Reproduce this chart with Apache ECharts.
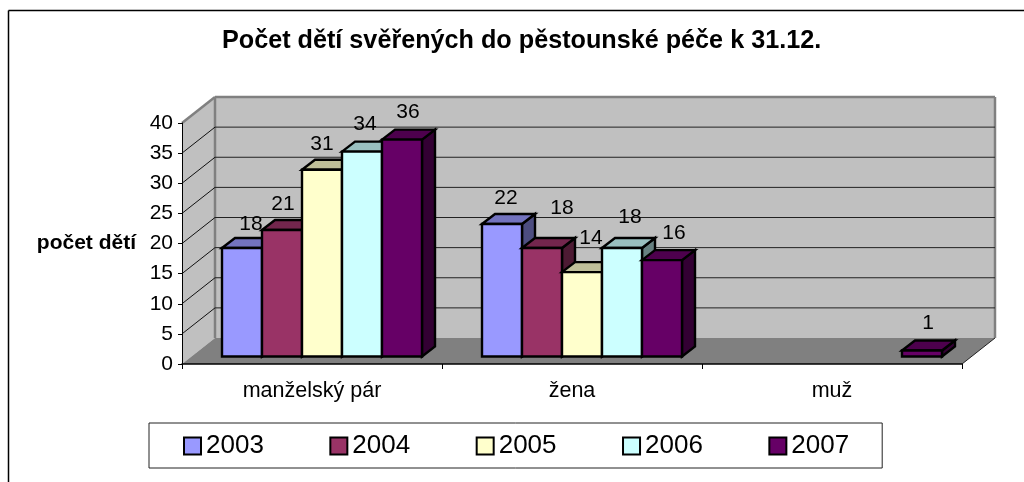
<!DOCTYPE html>
<html><head><meta charset="utf-8">
<style>html,body{margin:0;padding:0;background:#fff}#c{width:1024px;height:482px}</style>
<script src="https://cdn.jsdelivr.net/npm/echarts@6/dist/echarts.min.js"></script>
</head><body><div id="c"></div>
<script>
const categories = ['manželský pár', 'žena', 'muž'];
const years = ['2003', '2004', '2005', '2006', '2007'];
const values2003 = [18, 22, null];
const values2004 = [21, 18, null];
const values2005 = [31, 14, null];
const values2006 = [34, 18, null];
const values2007 = [36, 16, 1];
const yTicks = [5, 10, 15, 20, 25, 30, 35];
const colors = ['#9999FF', '#993366', '#FFFFCC', '#CCFFFF', '#660066'];

// label placement relative to each bar's top centre (style, not data)
const labelNudge = [
  [[9, -24], [4, -26], null],
  [[1, -26], [20, -40], null],
  [[0, -26], [9, -34], null],
  [[3, -27], [8, -31], null],
  [[6, -27], [12, -27], [6, -27]]
];
const WALL_DX = 33, WALL_DY = -26;   // depth of the room
const BAR_DX = 13, BAR_DY = -10;     // depth of one bar
const FRONT_DX = 10, FRONT_DY = -7.5; // bars' front plane behind the axis plane

function shade(hex, k) {
  const n = parseInt(hex.slice(1), 16);
  const c = [n >> 16, (n >> 8) & 255, n & 255].map(v => Math.round(v * k));
  return 'rgb(' + c.join(',') + ')';
}
function poly(points, fill, stroke, lw) {
  return { type: 'polygon', shape: { points }, style: { fill, stroke, lineWidth: lw || 0, lineJoin: 'miter' } };
}
function line(x1, y1, x2, y2, stroke, lw) {
  return { type: 'line', shape: { x1, y1, x2, y2 }, style: { stroke, lineWidth: lw } };
}

function renderRoom(params, api) {
  const cs = params.coordSys;
  const l = cs.x, r = cs.x + cs.width, t = cs.y, b = cs.y + cs.height;
  const dx = WALL_DX, dy = WALL_DY;
  return { type: 'group', children: [
    poly([[l + dx, t + dy], [r + dx, t + dy], [r + dx, b + dy], [l + dx, b + dy]], '#C0C0C0'),
    poly([[l, t], [l + dx, t + dy], [l + dx, b + dy], [l, b]], '#C0C0C0'),
    poly([[l, b], [r, b], [r + dx, b + dy], [l + dx, b + dy]], '#808080'),
    line(l, t, l + dx, t + dy, '#808080', 2.5),
    line(l + dx, t + dy, r + dx, t + dy, '#808080', 2.5),
    line(l + dx, t + dy, l + dx, b + dy, '#808080', 2.5),
    line(r + dx, t + dy, r + dx, b + dy, '#808080', 2.5),
    line(r, b, r + dx, b + dy, '#222', 1)
  ] };
}
function renderGrid(params, api) {
  const cs = params.coordSys;
  const y = api.coord([0, api.value(1)])[1];
  const l = cs.x, r = cs.x + cs.width;
  return { type: 'group', children: [
    line(l, y, l + WALL_DX, y + WALL_DY, '#111', 1),
    line(l + WALL_DX, y + WALL_DY, r + WALL_DX, y + WALL_DY, '#222', 1)
  ] };
}
function barRenderer(s) {
  return function (params, api) {
    const v = api.value(1);
    if (v === null || v === undefined || isNaN(v)) return;
    const cat = api.value(0);
    const band = api.size([1, 0])[0];
    const w = band / 6.5;
    const cx = api.coord([cat, 0])[0];
    const x0 = cx - 2.5 * w + s * w + FRONT_DX, x1 = x0 + w;
    const yb = api.coord([cat, 0])[1] + FRONT_DY;
    const yt = api.coord([cat, v])[1] + FRONT_DY;
    const c = colors[s], sw = 2.4;
    const nudge = labelNudge[s][cat] || [0, -27];
    return { type: 'group', children: [
      poly([[x1, yt], [x1 + BAR_DX, yt + BAR_DY], [x1 + BAR_DX, yb + BAR_DY], [x1, yb]], shade(c, 0.5), '#000', sw),
      poly([[x0, yt], [x0 + BAR_DX, yt + BAR_DY], [x1 + BAR_DX, yt + BAR_DY], [x1, yt]], shade(c, 0.75), '#000', sw),
      poly([[x0, yt], [x1, yt], [x1, yb], [x0, yb]], c, '#000', sw),
      { type: 'text', z2: 50, style: { text: String(v), x: (x0 + x1) / 2 + nudge[0], y: yt + nudge[1],
        align: 'center', verticalAlign: 'middle', fontSize: 21, fontFamily: 'Liberation Sans', fill: '#000' } }
    ] };
  };
}

const valuesByYear = [values2003, values2004, values2005, values2006, values2007];
const series = [
  { type: 'custom', name: 'room', renderItem: renderRoom, data: [[0, 0]], z: 1, silent: true, encode: { x: 0, y: 1 } },
  { type: 'custom', name: 'grid', renderItem: renderGrid, data: yTicks.map(t => [0, t]), z: 1, silent: true, encode: { x: 0, y: 1 } }
].concat(years.map((y, s) => ({
  type: 'custom', name: y, z: 4 + s, silent: true,
  itemStyle: { color: colors[s] },
  encode: { x: 0, y: 1 },
  renderItem: barRenderer(s),
  data: valuesByYear[s].map((v, i) => [i, v])
})));

const chart = echarts.init(document.getElementById('c'), null, { renderer: 'canvas' });
chart.setOption({
  animation: false,
  backgroundColor: '#fff',
  textStyle: { fontFamily: 'Liberation Sans' },
  title: { text: 'Počet dětí svěřených do pěstounské péče k 31.12.', left: 222, top: 29,
    padding: 0, textStyle: { fontSize: 25.2, fontWeight: 'bold', color: '#000', fontFamily: 'Liberation Sans' } },
  grid: { left: 182, right: 62, top: 123, height: 241, containLabel: false },
  xAxis: { type: 'category', data: categories, z: 3,
    axisLine: { show: true, lineStyle: { color: '#000', width: 1.5 } },
    axisTick: { show: true, length: 5, lineStyle: { color: '#000' } },
    axisLabel: { fontSize: 21.5, color: '#000', margin: 16, fontFamily: 'Liberation Sans' } },
  yAxis: { type: 'value', min: 0, max: 40, interval: 5, z: 3,
    name: 'počet dětí', nameLocation: 'middle', nameRotate: 0, nameGap: 46,
    nameTextStyle: { fontSize: 21, fontWeight: 'bold', color: '#000', padding: [17, 0, 0, 0], fontFamily: 'Liberation Sans' },
    splitLine: { show: false },
    axisLine: { show: true, lineStyle: { color: '#000', width: 1 } },
    axisTick: { show: true, length: 4, lineStyle: { color: '#000' } },
    axisLabel: { fontSize: 21, color: '#000', margin: 9, fontFamily: 'Liberation Sans' } },
  legend: { data: years, left: 149, top: 423, orient: 'horizontal', icon: 'rect',
    itemWidth: 17, itemHeight: 17, itemGap: 65.5,
    padding: [10, 33, 9, 34], borderColor: '#222', borderWidth: 1, backgroundColor: '#fff',
    selectedMode: false, itemStyle: { borderColor: '#000', borderWidth: 2 },
    textStyle: { fontSize: 26, color: '#000', fontFamily: 'Liberation Sans', padding: [0, 0, 0, 0] } },
  graphic: [
    { type: 'line', shape: { x1: 8.5, y1: 10.5, x2: 1024, y2: 10.5 }, style: { stroke: '#000', lineWidth: 1.5 } },
    { type: 'line', shape: { x1: 8.5, y1: 10.5, x2: 8.5, y2: 482 }, style: { stroke: '#000', lineWidth: 1.5 } }
  ],
  series
});
</script></body></html>
